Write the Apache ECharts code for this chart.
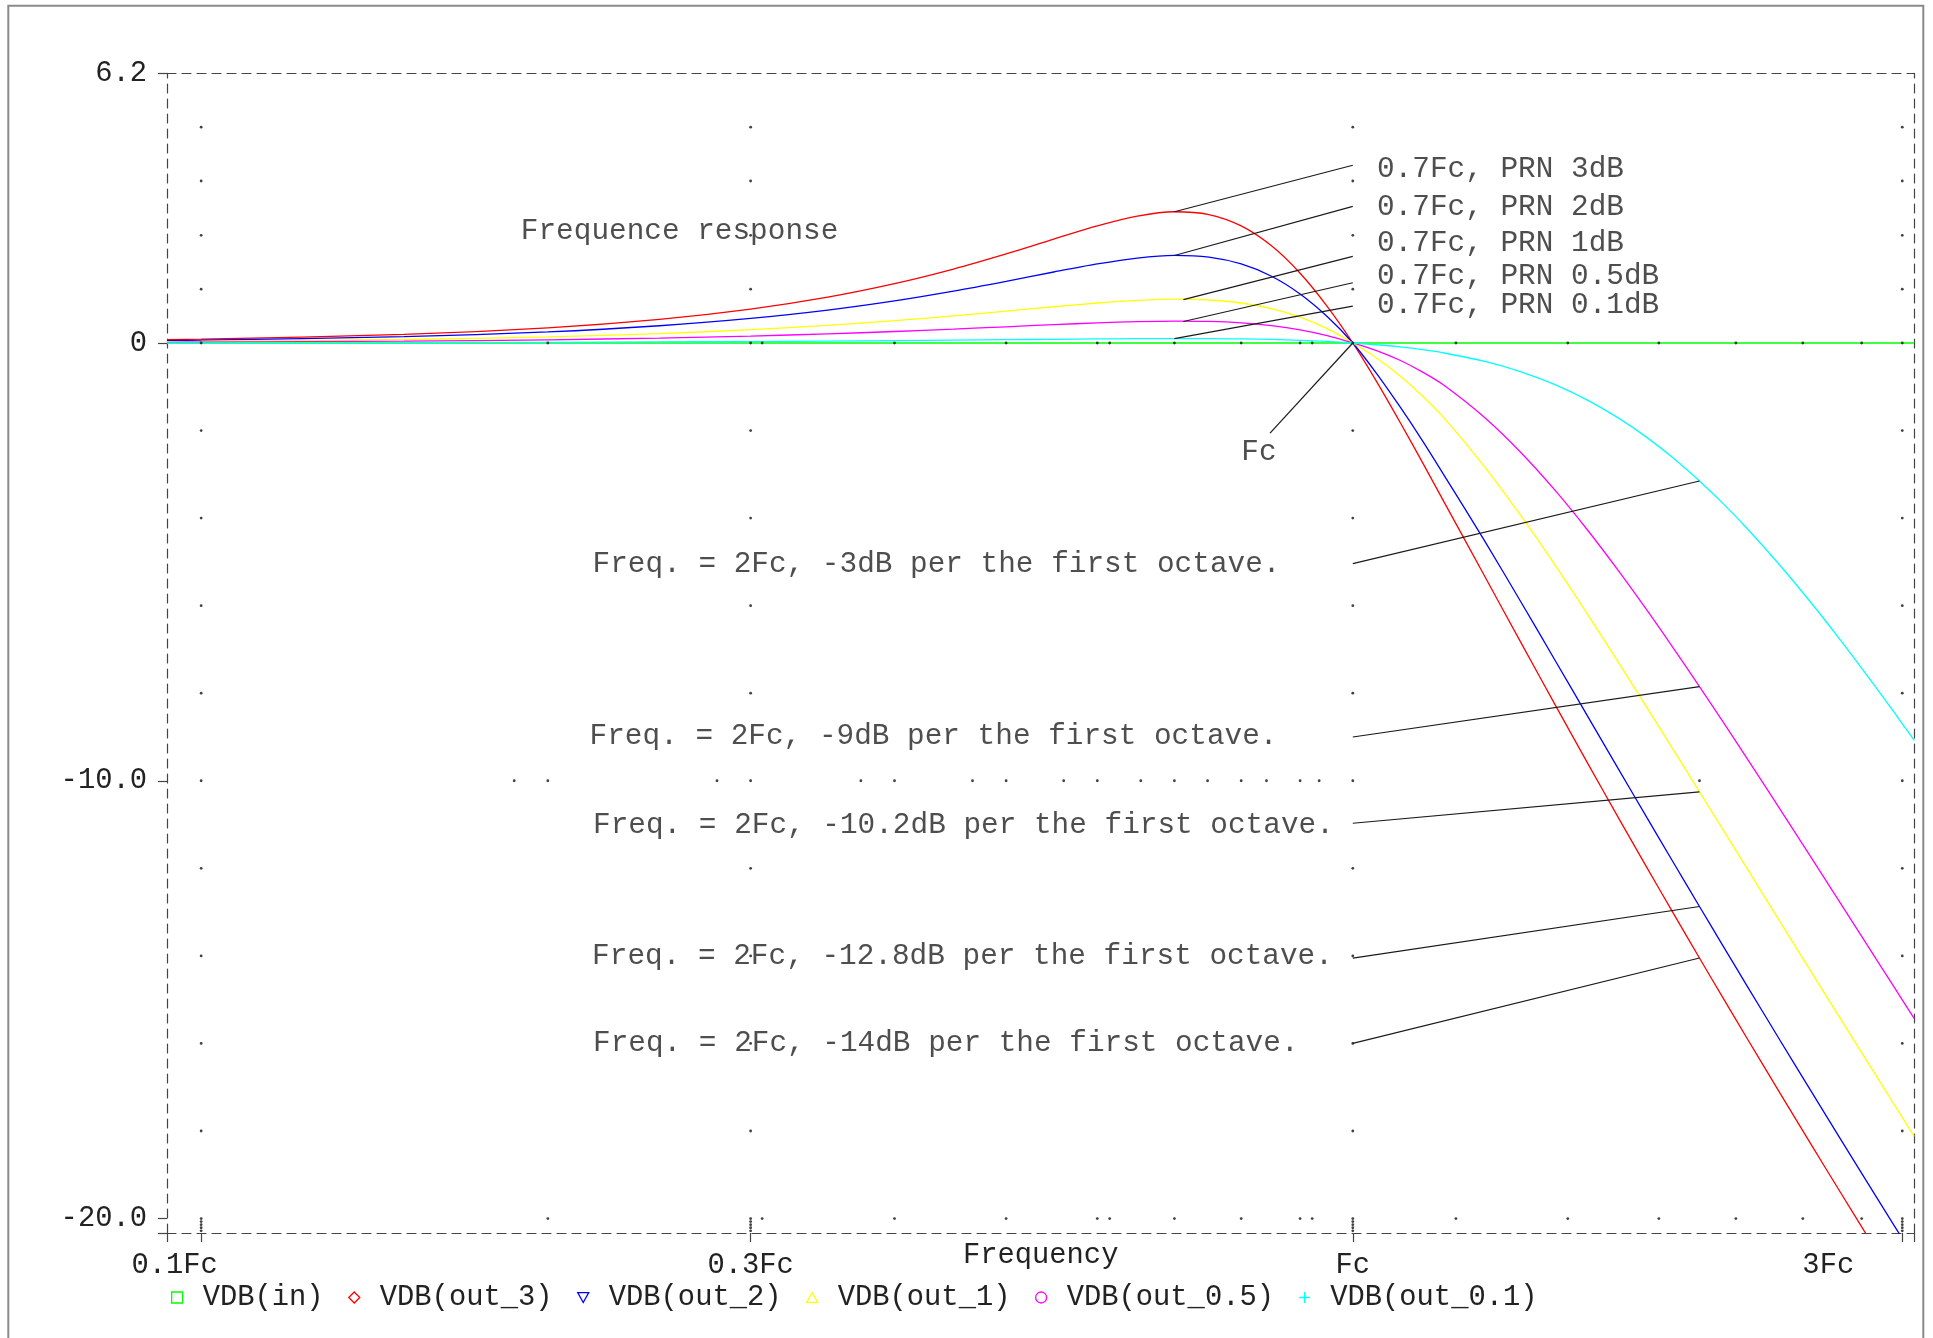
<!DOCTYPE html>
<html>
<head>
<meta charset="utf-8">
<title>Frequence response</title>
<script src="https://cdn.jsdelivr.net/npm/echarts@6/dist/echarts.min.js"></script>
<style>
  html, body { margin: 0; padding: 0; background: #ffffff; }
  #chart { width: 1933px; height: 1338px; }
</style>
</head>
<body>
<div id="chart"></div>
<script>
// ---- data -------------------------------------------------------------
// Frequency points, in multiples of the cutoff frequency Fc
const FREQ = [0.0934, 0.1, 0.15, 0.2, 0.25, 0.3, 0.35, 0.4, 0.45, 0.5,
  0.55, 0.6, 0.65, 0.7, 0.75, 0.8, 0.85, 0.9, 0.95, 1.0,
  1.05, 1.1, 1.15, 1.2, 1.3, 1.4, 1.5, 1.6, 1.7, 1.8,
  1.9, 2.0, 2.1, 2.2, 2.35, 2.5, 2.65, 2.8, 2.95, 3.073];

// Gain in dB at each frequency point
const VDB_IN = [0, 0, 0, 0, 0, 0, 0, 0, 0, 0,
  0, 0, 0, 0, 0, 0, 0, 0, 0, 0,
  0, 0, 0, 0, 0, 0, 0, 0, 0, 0,
  0, 0, 0, 0, 0, 0, 0, 0, 0, 0];
const VDB_OUT_3 = [0.075, 0.087, 0.195, 0.346, 0.540, 0.775, 1.048, 1.356, 1.689, 2.035,
  2.373, 2.674, 2.897, 2.998, 2.933, 2.674, 2.219, 1.593, 0.838, 0,
  -0.907, -1.829, -2.738, -3.629, -5.300, -6.851, -8.283, -9.607, -10.835, -11.978,
  -13.047, -14.049, -14.994, -15.887, -17.141, -18.306, -19.394, -20.414, -21.375, -22.124];
const VDB_OUT_2 = [0.055, 0.064, 0.143, 0.253, 0.393, 0.560, 0.750, 0.960, 1.183, 1.407,
  1.621, 1.805, 1.939, 1.999, 1.960, 1.805, 1.524, 1.119, 0.604, 0,
  -0.715, -1.473, -2.241, -3.017, -4.498, -5.922, -7.269, -8.535, -9.723, -10.837,
  -11.884, -12.872, -13.805, -14.689, -15.933, -17.090, -18.173, -19.190, -20.148, -20.895];
const VDB_OUT_1 = [0.031, 0.035, 0.079, 0.139, 0.215, 0.303, 0.402, 0.509, 0.619, 0.728,
  0.828, 0.913, 0.973, 1.000, 0.982, 0.913, 0.783, 0.588, 0.326, 0,
  -0.353, -0.758, -1.218, -1.712, -2.811, -3.952, -5.093, -6.210, -7.289, -8.323,
  -9.311, -10.253, -11.152, -12.009, -13.224, -14.361, -15.428, -16.433, -17.383, -18.124];
const VDB_OUT_05 = [0.016, 0.019, 0.042, 0.073, 0.112, 0.158, 0.208, 0.262, 0.316, 0.370,
  0.418, 0.459, 0.487, 0.500, 0.492, 0.459, 0.396, 0.301, 0.169, 0,
  -0.181, -0.401, -0.667, -0.967, -1.692, -2.507, -3.380, -4.283, -5.194, -6.098,
  -6.985, -7.848, -8.685, -9.493, -10.652, -11.749, -12.787, -13.771, -14.704, -15.435];
const VDB_OUT_01 = [0.003, 0.004, 0.009, 0.015, 0.023, 0.033, 0.043, 0.053, 0.064, 0.075,
  0.084, 0.092, 0.098, 0.100, 0.098, 0.092, 0.080, 0.061, 0.035, 0,
  -0.040, -0.091, -0.154, -0.229, -0.417, -0.660, -0.958, -1.310, -1.711, -2.156,
  -2.639, -3.152, -3.687, -4.238, -5.083, -5.934, -6.780, -7.613, -8.428, -9.080];

// Axes
const X_MIN = 0.0934, X_MAX = 3.073;
const Y_MIN = -20.33, Y_MAX = 6.16;
const X_TICKS = [0.1, 0.3, 1, 3];
const X_TICK_LABELS = ['0.1Fc', '0.3Fc', 'Fc', '3Fc'];
const Y_TICKS = [Y_MAX, 0, -10, -20];
const Y_TICK_LABELS = ['6.2', '0', '-10.0', '-20.0'];

// Dotted grid: columns at the major frequencies, rows at the major levels
const GRID_COL_FREQ = [0.1, 0.3, 1, 3];
const GRID_COL_DB = [4.93, 3.70, 2.46, 1.23, -2, -4, -6, -8, -12, -14, -16, -18,
  -20.07, -20.14, -20.21, -20.28];
const GRID_ROW_DB = [0, -20];
const GRID_ROW_FREQ = [0.1, 0.2, 0.3, 0.307, 0.4, 0.5, 0.6, 0.615, 0.7, 0.8, 0.9, 0.922,
  1, 1.229, 1.537, 1.844, 2.151, 2.459, 2.766, 3];
const GRID_MID_DB = -10;
const GRID_MID_FREQ = [0.1, 0.187, 0.2, 0.2805, 0.3, 0.374, 0.4, 0.4675, 0.5, 0.561, 0.6,
  0.6545, 0.7, 0.748, 0.8, 0.8415, 0.9, 0.935, 1, 2, 3];

// Annotation texts: [text, frequency (xFc), level (dB)] of the left-middle point
const NOTES = [
  ['Frequence response', 0.1893, 2.56],
  ['0.7Fc, PRN 3dB', 1.0485, 3.97],
  ['0.7Fc, PRN 2dB', 1.0485, 3.09],
  ['0.7Fc, PRN 1dB', 1.0485, 2.27],
  ['0.7Fc, PRN 0.5dB', 1.0485, 1.52],
  ['0.7Fc, PRN 0.1dB', 1.0485, 0.86],
  ['Freq. = 2Fc, -3dB per the first octave.', 0.2185, -5.05],
  ['Freq. = 2Fc, -9dB per the first octave.', 0.2172, -8.98],
  ['Freq. = 2Fc, -10.2dB per the first octave.', 0.2187, -11.01],
  ['Freq. = 2Fc, -12.8dB per the first octave.', 0.2183, -14.0],
  ['Freq. = 2Fc, -14dB per the first octave.', 0.2187, -16.0]
];
const FC_NOTE = ['Fc', 0.829, -2.50];

// ---- helpers ----------------------------------------------------------
const FONT = "'Liberation Mono', 'Courier New', monospace";
const FONT_SIZE = 28.8;
const NOTE_FONT_SIZE = 29.4;
const TEXT_COLOR = '#222222';
const AXIS_COLOR = '#444444';
const DASH = [9, 6];

const pairs = ys => FREQ.map((f, i) => [f, ys[i]]);
const valueAt = (ys, f) => ys[FREQ.indexOf(f)];
const nearest = (list, v, logScale) => {
  let best = 0;
  list.forEach((t, i) => {
    const d = logScale ? Math.abs(Math.log(t) - Math.log(v)) : Math.abs(t - v);
    const b = logScale ? Math.abs(Math.log(list[best]) - Math.log(v)) : Math.abs(list[best] - v);
    if (d < b) best = i;
  });
  return best;
};

// Leader lines from the notes to the curves: [[from], [to]]
const LEADERS = [
  [[1.0, 4.06], [0.7, valueAt(VDB_OUT_3, 0.7)]],
  [[1.0, 3.12], [0.7, valueAt(VDB_OUT_2, 0.7)]],
  [[1.0, 1.98], [0.7127, 0.99]],
  [[1.0, 1.375], [0.7127, 0.49]],
  [[1.0, 0.84], [0.7, valueAt(VDB_OUT_01, 0.7)]],
  [[0.8475, -2.06], [1.0, valueAt(VDB_IN, 1.0)]],
  [[1.0, -5.04], [2.0, valueAt(VDB_OUT_01, 2.0)]],
  [[1.0, -9.0], [2.0, valueAt(VDB_OUT_05, 2.0)]],
  [[1.0, -10.97], [2.0, valueAt(VDB_OUT_1, 2.0)]],
  [[1.0, -14.05], [2.0, valueAt(VDB_OUT_2, 2.0)]],
  [[1.0, -16.0], [2.0, valueAt(VDB_OUT_3, 2.0)]]
];

const CURVES = [
  { name: 'VDB(in)', ys: VDB_IN, color: '#00ff00', icon: 'rect' },
  { name: 'VDB(out_3)', ys: VDB_OUT_3, color: '#ff0000', icon: 'diamond' },
  { name: 'VDB(out_2)', ys: VDB_OUT_2, color: '#0000ff', icon: 'path://M0,0L10,0L5,9Z' },
  { name: 'VDB(out_1)', ys: VDB_OUT_1, color: '#ffff00', icon: 'path://M5,0L10,9L0,9Z' },
  { name: 'VDB(out_0.5)', ys: VDB_OUT_05, color: '#ff00ff', icon: 'circle' },
  { name: 'VDB(out_0.1)', ys: VDB_OUT_01, color: '#00ffff', icon: 'path://M5,0L5,10M0,5L10,5' }
];

const gridDots = [];
GRID_COL_FREQ.forEach(f => GRID_COL_DB.forEach(v => gridDots.push([f, v])));
GRID_ROW_DB.forEach(v => GRID_ROW_FREQ.forEach(f => gridDots.push([f, v])));
GRID_MID_FREQ.forEach(f => gridDots.push([f, GRID_MID_DB]));

const textStyle = { fontFamily: FONT, fontSize: FONT_SIZE, color: TEXT_COLOR };
const noteStyle = { fontFamily: FONT, fontSize: NOTE_FONT_SIZE, color: TEXT_COLOR };

// ---- chart ------------------------------------------------------------
const chart = echarts.init(document.getElementById('chart'), null, { renderer: 'canvas' });

const xLabelRich = {};
X_TICK_LABELS.forEach((s, i) => {
  const pad = i === 0 ? [0, 53, 0, 0] : (i === X_TICK_LABELS.length - 1 ? [0, 148, 0, 0] : [0, 0, 0, 0]);
  xLabelRich['l' + i] = Object.assign({ padding: pad }, textStyle);
});

const dashedLine = { show: true, onZero: false, lineStyle: { color: AXIS_COLOR, width: 1.2, type: DASH } };

const option = {
  animation: false,
  backgroundColor: '#ffffff',
  textStyle: { fontFamily: FONT },
  grid: { left: 167, right: 18.7, top: 73.3, bottom: 105, containLabel: false, outerBoundsMode: 'none' },
  xAxis: [{
    type: 'log', logBase: 10, min: X_MIN, max: X_MAX,
    axisLine: dashedLine,
    axisTick: { show: true, inside: false, length: 9, customValues: [X_MIN].concat(X_TICKS, [X_MAX]),
      lineStyle: { color: AXIS_COLOR, width: 1.2 } },
    axisLabel: {
      customValues: X_TICKS, margin: 18,
      formatter: v => { const i = nearest(X_TICKS, v, true); return '{l' + i + '|' + X_TICK_LABELS[i] + '}'; },
      rich: xLabelRich, fontFamily: FONT, fontSize: FONT_SIZE, color: TEXT_COLOR
    },
    splitLine: { show: false }, minorTick: { show: false }, minorSplitLine: { show: false },
    name: 'Frequency', nameLocation: 'middle', nameGap: 8, nameMoveOverlap: false,
    nameTextStyle: { fontFamily: FONT, fontSize: FONT_SIZE, color: TEXT_COLOR }
  }, {
    type: 'log', logBase: 10, min: X_MIN, max: X_MAX, position: 'top',
    axisLine: dashedLine,
    axisTick: { show: false }, axisLabel: { show: false }, splitLine: { show: false }
  }],
  yAxis: [{
    type: 'value', min: Y_MIN, max: Y_MAX,
    axisLine: dashedLine,
    axisTick: { show: true, inside: false, length: 9, customValues: Y_TICKS.concat([Y_MIN]),
      lineStyle: { color: AXIS_COLOR, width: 1.2 } },
    axisLabel: {
      customValues: Y_TICKS, margin: 20,
      formatter: v => Y_TICK_LABELS[nearest(Y_TICKS, v, false)],
      fontFamily: FONT, fontSize: FONT_SIZE, color: TEXT_COLOR
    },
    splitLine: { show: false }
  }, {
    type: 'value', min: Y_MIN, max: Y_MAX, position: 'right',
    axisLine: dashedLine,
    axisTick: { show: false }, axisLabel: { show: false }, splitLine: { show: false }
  }],
  legend: {
    left: 171, top: 1283, padding: 0, orient: 'horizontal',
    itemWidth: 11, itemHeight: 11, itemGap: 24.5, selectedMode: false,
    formatter: name => '{t|' + name + '}',
    textStyle: Object.assign({ rich: { t: Object.assign({ padding: [0, 0, 0, 15] }, textStyle) } }, textStyle),
    data: CURVES.map(c => ({
      name: c.name, icon: c.icon,
      itemStyle: { color: 'rgba(0,0,0,0)', borderColor: c.color, borderWidth: 1.3 }
    }))
  },
  series: CURVES.map((c, i) => ({
    type: 'line', name: c.name, data: pairs(c.ys),
    showSymbol: false, symbol: 'none', smooth: 0.3, clip: true, silent: true,
    lineStyle: { color: c.color, width: 1.3 }, itemStyle: { color: c.color },
    z: 2 + i * 0.01
  })).concat([{
    type: 'scatter', name: 'grid', data: gridDots, symbol: 'circle', symbolSize: 2.8,
    itemStyle: { color: '#111111' }, silent: true, z: 3
  }, {
    type: 'lines', name: 'leaders', coordinateSystem: 'cartesian2d', polyline: false, silent: true,
    data: LEADERS.map(l => ({ coords: l })),
    lineStyle: { color: '#1a1a1a', width: 1.2, opacity: 1, curveness: 0 }, z: 4
  }, {
    type: 'scatter', name: 'notes', silent: true, symbolSize: 1,
    itemStyle: { color: 'rgba(0,0,0,0)' },
    data: NOTES.map(n => ({ value: [n[1], n[2]], label: { formatter: n[0] } })),
    label: Object.assign({ show: true, position: 'right', distance: 0 }, noteStyle),
    z: 5
  }, {
    type: 'scatter', name: 'fc-note', silent: true, symbolSize: 1,
    itemStyle: { color: 'rgba(0,0,0,0)' },
    data: [{ value: [FC_NOTE[1], FC_NOTE[2]], label: { formatter: FC_NOTE[0] } }],
    label: Object.assign({ show: true, position: 'inside' }, noteStyle),
    z: 5
  }]),
  graphic: [{
    type: 'rect', silent: true, z: 0,
    shape: { x: 8.3, y: 5.7, width: 1915, height: 1345 },
    style: { fill: 'none', stroke: '#8a8a8a', lineWidth: 2 }
  }]
};

chart.setOption(option);
</script>
</body>
</html>
